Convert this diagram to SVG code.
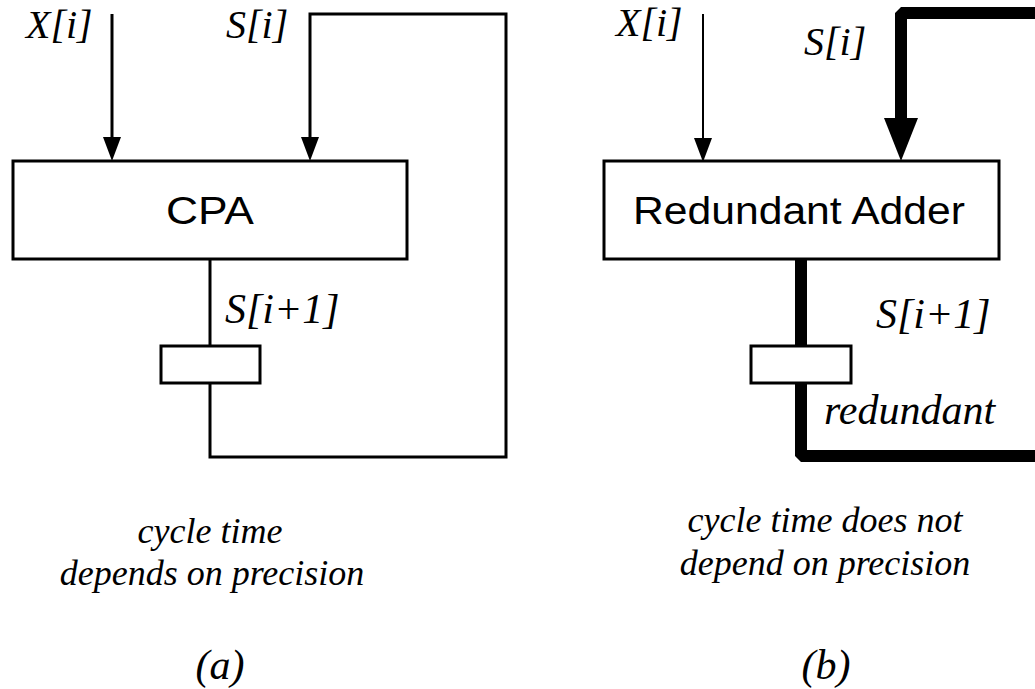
<svg xmlns="http://www.w3.org/2000/svg" width="1035" height="689" viewBox="0 0 1035 689">
  <style>
    .box { fill: #fff; stroke: #000; stroke-width: 3; }
    .wire { fill: none; stroke: #000; stroke-width: 3; stroke-linejoin: miter; }
    .wire-thin { fill: none; stroke: #000; stroke-width: 2; }
    .bus { fill: none; stroke: #000; stroke-width: 12; stroke-linejoin: bevel; }
    .blk { font-family: "Liberation Sans", Arial, sans-serif; font-size: 38px; fill: #000; text-anchor: middle; }
    .sig { font-family: "Liberation Serif", "Times New Roman", serif; font-style: italic; font-size: 40px; fill: #000; }
    .note { font-family: "Liberation Serif", "Times New Roman", serif; font-style: italic; font-size: 36px; fill: #000; text-anchor: middle; }
    .cap { font-family: "Liberation Serif", "Times New Roman", serif; font-style: italic; font-size: 42px; fill: #000; text-anchor: middle; }
  </style>
  <defs>
    <marker id="arrow" markerUnits="userSpaceOnUse" viewBox="0 0 24 18" refX="0" refY="9" markerWidth="24" markerHeight="18" orient="auto">
      <path d="M0,0 L24,9 L0,18 Z" fill="#000"/>
    </marker>
    <marker id="arrow-bus" markerUnits="userSpaceOnUse" viewBox="0 0 43 34" refX="0" refY="17" markerWidth="43" markerHeight="34" orient="auto">
      <path d="M0,0 L43,17 L0,34 Z" fill="#000"/>
    </marker>
  </defs>

  <rect width="1035" height="689" fill="#fff"/>

  <!-- wiring: inputs, feedback loops, register links -->
  <g id="connectors">
    <!-- (a) carry-propagate loop -->
    <line class="wire" x1="112" y1="14" x2="112" y2="137" marker-end="url(#arrow)"/>
    <path class="wire" d="M210,383 L210,457 L506,457 L506,14 L310,14 L310,137" marker-end="url(#arrow)"/>
    <line class="wire" x1="210" y1="259" x2="210" y2="346"/>
    <!-- (b) redundant loop -->
    <line class="wire-thin" x1="703" y1="14" x2="703" y2="138" marker-end="url(#arrow)"/>
    <path class="bus" d="M1045,13 L901,13 L901,118" marker-end="url(#arrow-bus)"/>
    <line class="bus" x1="801" y1="259" x2="801" y2="346"/>
    <path class="bus" d="M801,383 L801,456 L1045,456"/>
  </g>

  <g id="cpa">
    <rect class="box" x="13" y="161" width="394" height="98"/>
    <text class="blk" x="210" y="224" textLength="88" lengthAdjust="spacingAndGlyphs">CPA</text>
  </g>
  <g id="reg-a">
    <rect class="box" x="161" y="346" width="99" height="37"/>
  </g>

  <g id="adder">
    <rect class="box" x="604" y="161" width="395" height="98"/>
    <text class="blk" x="799" y="224" textLength="332" lengthAdjust="spacingAndGlyphs">Redundant Adder</text>
  </g>
  <g id="reg-b">
    <rect class="box" x="751" y="346" width="100" height="37"/>
  </g>

  <!-- signal names -->
  <g id="labels-a">
    <text class="sig" x="26" y="38">X[i]</text>
    <text class="sig" x="226" y="38">S[i]</text>
    <text class="sig" x="225" y="323" style="font-size:42px">S[i+1]</text>
  </g>
  <g id="labels-b">
    <text class="sig" x="616" y="36">X[i]</text>
    <text class="sig" x="804" y="55">S[i]</text>
    <text class="sig" x="876" y="328" style="font-size:42px">S[i+1]</text>
    <text class="sig" x="824" y="424" style="font-size:42px">redundant</text>
  </g>

  <!-- captions -->
  <g id="caption-a">
    <text class="note" x="210" y="543">cycle time</text>
    <text class="note" x="212" y="585">depends on precision</text>
    <text class="cap" x="220" y="679">(a)</text>
  </g>
  <g id="caption-b">
    <text class="note" x="825" y="532">cycle time does not</text>
    <text class="note" x="825" y="575">depend on precision</text>
    <text class="cap" x="826" y="679">(b)</text>
  </g>
</svg>
